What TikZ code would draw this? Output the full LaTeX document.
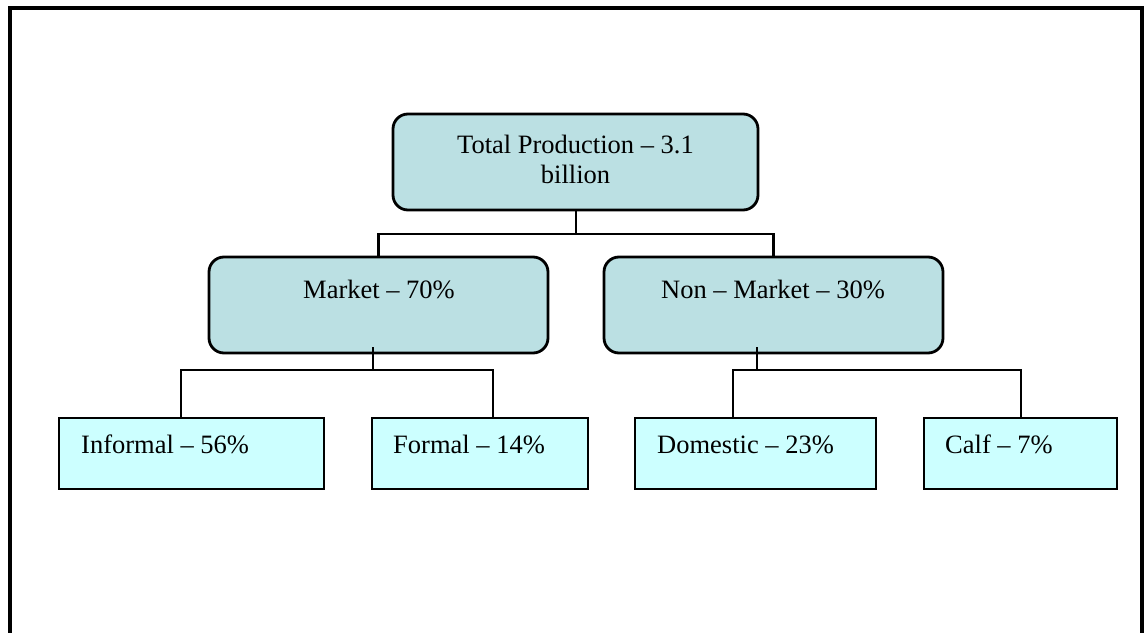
\documentclass[tikz,border=0pt]{standalone}
\usepackage{fontspec}
\setmainfont{Liberation Serif}
\definecolor{midfill}{RGB}{187,224,227}
\definecolor{lowfill}{RGB}{204,255,255}
\tikzset{
  upbox/.style={draw=black, line width=2.8pt, fill=midfill, rounded corners=15pt, inner sep=0pt, minimum height=96pt},
  lowbox/.style={draw=black, line width=2.8pt, fill=lowfill, inner sep=0pt, minimum height=71pt},
  txt/.style={inner sep=0pt, font=\fontsize{26.5}{30}\selectfont},
  conn/.style={draw=black, line width=2.8pt},
  frameline/.style={draw=black, line width=3.2pt}
}
\begin{document}
\begin{tikzpicture}[x=1pt,y=-1pt]
\useasboundingbox (0,0) rectangle (1146,632);
\fill[white] (0,0) rectangle (1146,632);
\draw[frameline] (10,640) -- (10,8) -- (1142,8) -- (1142,640);

% boxes
\node[upbox, minimum width=365pt] (total) at (575.5,162) {};
\node[upbox, minimum width=339pt] (market) at (378.5,305) {};
\node[upbox, minimum width=339pt] (nonmarket) at (773.5,305) {};
\node[lowbox, minimum width=265pt] (informal) at (191.5,453.5) {};
\node[lowbox, minimum width=216pt] (formal) at (480,453.5) {};
\node[lowbox, minimum width=241pt] (domestic) at (755.5,453.5) {};
\node[lowbox, minimum width=193pt] (calf) at (1020.5,453.5) {};

% texts
\node[txt, anchor=base, align=center] (totalT) at (575.5,183) {Total Production – 3.1\\billion};
\node[txt, anchor=base] (marketT) at (379,298) {Market – 70\%};
\node[txt, anchor=base] (nonmarketT) at (773,298) {Non – Market – 30\%};
\node[txt, anchor=base west] (informalT) at (81,453) {Informal – 56\%};
\node[txt, anchor=base west] (formalT) at (393,453) {Formal – 14\%};
\node[txt, anchor=base west] (domesticT) at (657,453) {Domestic – 23\%};
\node[txt, anchor=base west] (calfT) at (945,453) {Calf – 7\%};

% junction coordinates
\coordinate (j0) at (576,234);
\coordinate (j1) at (373,370);
\coordinate (j1s) at (373,347);
\coordinate (j2) at (757,370);
\coordinate (j2s) at (757,347);
\coordinate (li) at (181,370);
\coordinate (lf) at (493,370);
\coordinate (ld) at (733,370);
\coordinate (lc) at (1021,370);

% connectors
\draw[conn] (total.south -| j0) -- (j0);
\draw[conn] (market.north) -- (market.north |- j0) -- (nonmarket.north |- j0) -- (nonmarket.north);
\draw[conn] (j1s) -- (j1);
\draw[conn] (li |- informal.north) -- (li) -- (lf) -- (lf |- formal.north);
\draw[conn] (j2s) -- (j2);
\draw[conn] (ld |- domestic.north) -- (ld) -- (lc) -- (lc |- calf.north);
\end{tikzpicture}
\end{document}
